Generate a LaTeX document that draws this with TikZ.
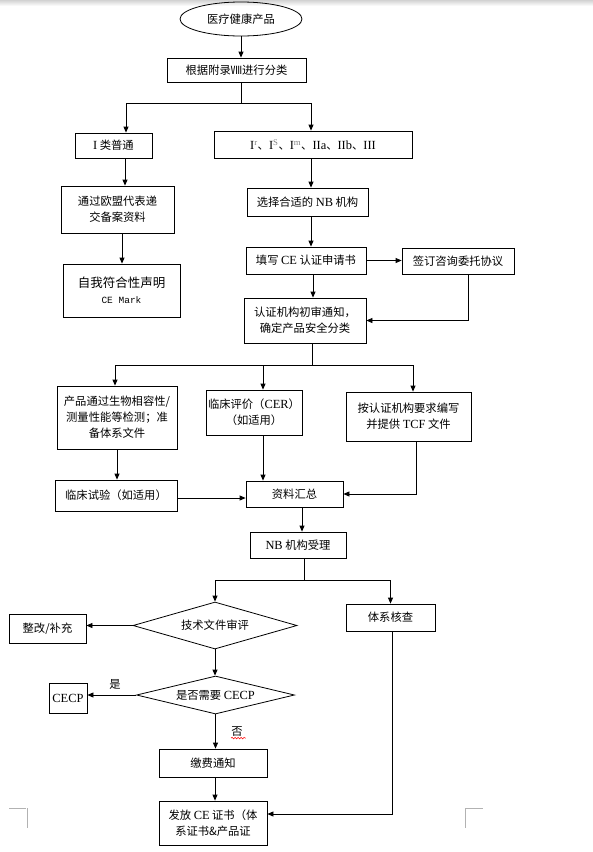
\documentclass[tikz,border=0pt]{standalone}
\usepackage{fontspec}
\setmainfont{Noto Sans CJK SC}
\newfontfamily\lat[Scale=1.1]{Liberation Serif}
\newfontfamily\mono{Liberation Mono}
\usetikzlibrary{arrows.meta,shapes.geometric,decorations.pathmorphing}
\begin{document}
\begin{tikzpicture}[x=1pt,y=-1pt,
  box/.style={draw, line width=0.8pt, rectangle, inner sep=0pt, align=center, font=\fontsize{11.3}{16}\selectfont},
  dia/.style={draw, line width=0.8pt, diamond, aspect=3.5, inner sep=0pt, align=center, font=\fontsize{11.3}{16}\selectfont},
  arr/.style={-{Triangle[length=6pt,width=5pt]}, line width=0.8pt},
  ln/.style={line width=0.8pt},
  cornermark/.style={draw=gray!60, line width=0.8pt},
  lbl/.style={inner sep=0pt, font=\fontsize{11.3}{13}\selectfont}]
\useasboundingbox (0,0) rectangle (593,852);
\shade[top color=gray!35, bottom color=white] (0,0) rectangle (593,6);

% nodes
\node[draw, line width=0.8pt, ellipse, minimum width=122pt, minimum height=34pt, inner sep=0pt, font=\fontsize{11.3}{16}\selectfont] (e0) at (241,19) {医疗健康产品};
\node[box, minimum width=139pt, minimum height=24pt] (n1) at (236.5,70) {根据附录Ⅷ进行分类};
\node[box, minimum width=77pt, minimum height=25pt] (n2l) at (113.5,145.5) {{\lat I} 类普通};
\node[box, minimum width=198pt, minimum height=27pt] (n2r) at (313,144.5) {{\lat I\textsuperscript{\color{gray}r}}、{\lat I\textsuperscript{\color{gray}S}}、{\lat I\textsuperscript{\color{gray}m}}、{\lat IIa}、{\lat IIb}、{\lat III}};
\node[box, minimum width=113pt, minimum height=47pt] (n3l) at (117.5,209.5) {通过欧盟代表递\\交备案资料};
\node[box, minimum width=117pt, minimum height=53pt] (n4l) at (121.5,290.5) {\fontsize{12.5}{17}\selectfont 自我符合性声明\\{\mono\fontsize{9.5}{12}\selectfont CE Mark}};
\node[box, minimum width=121pt, minimum height=28pt] (n3r) at (307.5,202) {选择合适的 {\lat NB} 机构};
\node[box, minimum width=120pt, minimum height=27pt] (n4r) at (306,260.5) {填写 {\lat CE} 认证申请书};
\node[box, minimum width=112pt, minimum height=26pt] (n4x) at (458,261) {签订咨询委托协议};
\node[box, minimum width=122pt, minimum height=45pt] (n5) at (305,320.5) {认证机构初审通知，\\确定产品安全分类};
\node[box, minimum width=120pt, minimum height=63pt] (n6a) at (117,417.5) {产品通过生物相容性/\\测量性能等检测；准\\备体系文件};
\node[box, minimum width=96pt, minimum height=45pt] (n6b) at (254,412.5) {临床评价（{\lat CER}）\\（如适用）};
\node[box, minimum width=125pt, minimum height=49pt] (n6c) at (408.5,416.5) {按认证机构要求编写\\并提供 {\lat TCF} 文件};
\node[box, minimum width=122pt, minimum height=31pt] (n7a) at (116,495.5) {临床试验（如适用）};
\node[box, minimum width=97pt, minimum height=26pt] (n7b) at (294.5,494) {资料汇总};
\node[box, minimum width=96pt, minimum height=26pt] (n8) at (298,545) {{\lat NB} 机构受理};
\node[dia, minimum width=164pt, minimum height=47pt] (d1) at (215,625.5) {技术文件审评};
\node[box, minimum width=89pt, minimum height=27pt] (n9r) at (390.5,617.5) {体系核查};
\node[box, minimum width=77pt, minimum height=29pt] (n9l) at (47.5,628.5) {整改/补充};
\node[dia, minimum width=158pt, minimum height=38pt] (d2) at (215.5,695) {是否需要 {\lat CECP}};
\node[box, minimum width=38pt, minimum height=30pt] (n10l) at (68,698) {{\lat CECP}};
\node[box, minimum width=108pt, minimum height=28pt] (n11) at (213,763) {缴费通知};
\node[box, minimum width=108pt, minimum height=44pt] (n12) at (213,823) {发放 {\lat CE} 证书（体\\系证书\&产品证};

% junctions
\coordinate (j1) at (241,103);
\coordinate (j2) at (312,365);
\coordinate (j3) at (304,580);

% connectors
\draw[arr] (e0.south) -- (e0.south |- n1.north);
\draw[ln] (e0.south |- n1.south) -- (j1);
\draw[arr] (j1) -| ([xshift=12.5pt]n2l.north);
\draw[arr] (j1) -| ([xshift=-2pt]n2r.north);
\draw[arr] ([xshift=11.5pt]n2l.south) -- ([xshift=11.5pt]n2l.south |- n3l.north);
\draw[arr] ([xshift=4.5pt]n3l.south) -- ([xshift=4.5pt]n3l.south |- n4l.north);
\draw[arr] ([xshift=-2pt]n2r.south) -- ([xshift=-2pt]n2r.south |- n3r.north);
\draw[arr] ([xshift=3.5pt]n3r.south) -- ([xshift=3.5pt]n3r.south |- n4r.north);
\draw[arr] (n4r.east) -- (n4r.east -| n4x.west);
\draw[arr] ([xshift=10pt]n4x.south) |- (n5.east);
\draw[arr] ([xshift=7pt]n4r.south) -- ([xshift=7pt]n4r.south |- n5.north);
\draw[ln] ([xshift=7pt]n5.south) -- (j2);
\draw[ln] ([xshift=-2pt]n6a.north |- j2) -- ([xshift=4.5pt]n6c.north |- j2);
\draw[arr] ([xshift=-2pt]n6a.north |- j2) -- ([xshift=-2pt]n6a.north);
\draw[arr] ([xshift=9pt]n6b.north |- j2) -- ([xshift=9pt]n6b.north);
\draw[arr] ([xshift=4.5pt]n6c.north |- j2) -- ([xshift=4.5pt]n6c.north);
\draw[arr] (n6a.south) -- (n6a.south |- n7a.north);
\draw[arr] ([yshift=-2.5pt]n7a.east) -- ([yshift=-2.5pt]n7a.east -| n7b.west);
\draw[arr] ([xshift=9pt]n6b.south) -- ([xshift=9pt]n6b.south |- n7b.north);
\draw[arr] ([xshift=7.5pt]n6c.south) |- (n7b.east);
\draw[arr] ([xshift=7.5pt]n7b.south) -- ([xshift=7.5pt]n7b.south |- n8.north);
\draw[ln] ([xshift=6pt]n8.south) -- (j3);
\draw[ln] (d1.north |- j3) -- (n9r.north |- j3);
\draw[arr] (d1.north |- j3) -- (d1.north);
\draw[arr] (n9r.north |- j3) -- (n9r.north);
\draw[arr] (d1.west) -- (d1.west -| n9l.east);
\draw[arr] (d1.south) -- (d1.south |- d2.north);
\draw[arr] (d2.west) -- (d2.west -| n10l.east);
\node[lbl] (yes) at (115,684) {是};
\draw[arr] (d2.south) -- (d2.south |- n11.north);
\node[lbl] (no) at (237,732) {否};
\draw[red, line width=0.5pt, decorate, decoration={snake, amplitude=0.8pt, segment length=3pt}] ([yshift=-1pt]no.south west) -- ([yshift=-1pt,xshift=3pt]no.south east);
\draw[arr] ([xshift=2pt]n11.south) -- ([xshift=2pt]n11.south |- n12.north);
\draw[arr] ([xshift=1.5pt]n9r.south) |- ([yshift=9pt]n12.east);

% page corner marks
\draw[cornermark] (9,808) -- (26,808) (27,808) -- (27,828);
\draw[cornermark] (465,808) -- (483,808) (465,808) -- (465,828);
\end{tikzpicture}
\end{document}
